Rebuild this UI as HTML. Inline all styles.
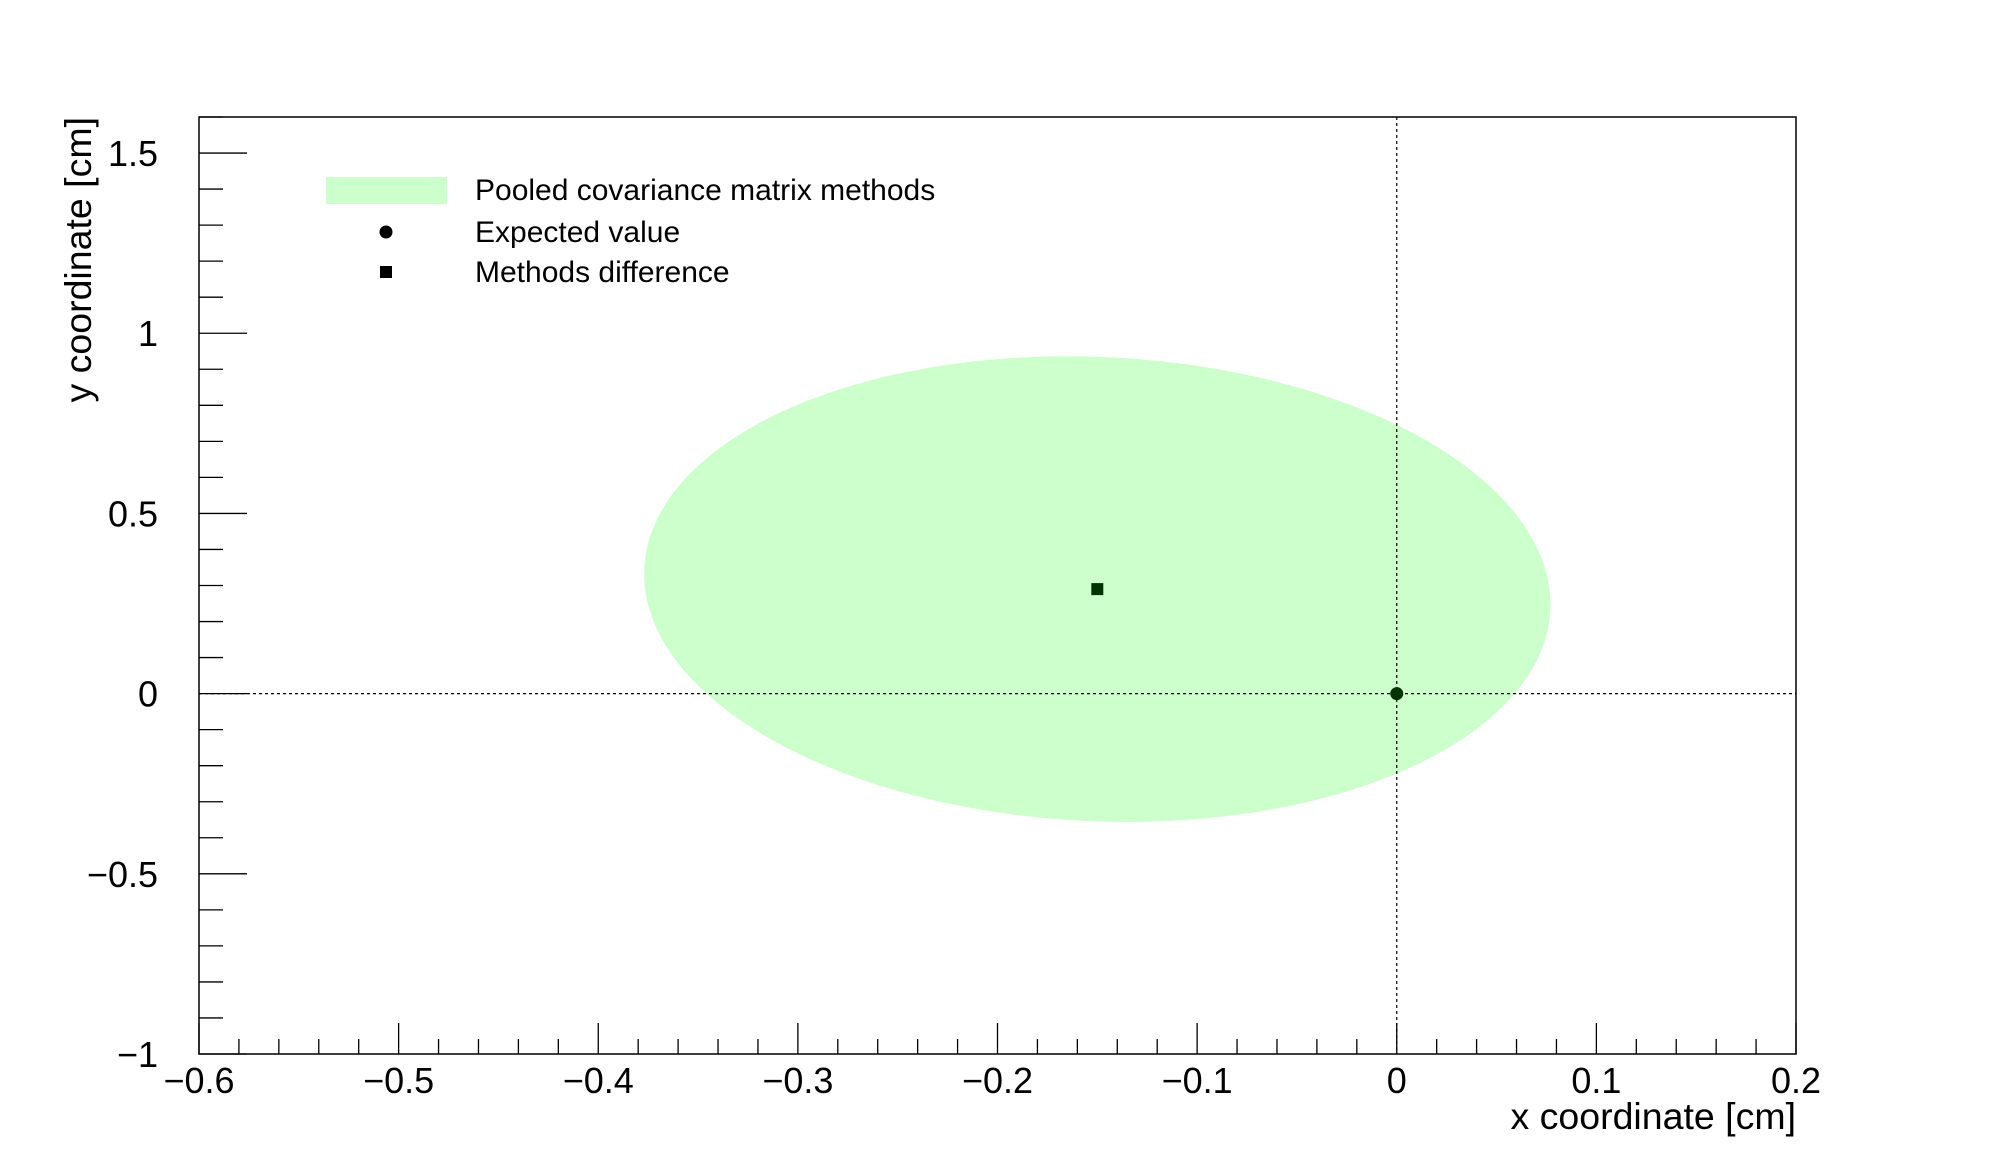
<!DOCTYPE html>
<html><head><meta charset="utf-8"><style>
html,body{margin:0;padding:0;background:#fff;}
svg{display:block;font-family:"Liberation Sans",sans-serif;}
</style></head><body>
<svg id="c" width="1996" height="1172" viewBox="0 0 1996 1172" xmlns="http://www.w3.org/2000/svg">
<g id="plot"></g>
</svg>
<script>
const ellipseCenter = [-0.15, 0.29];
const ellipseSigma = [0.227, 0.646];
const ellipseCov = [-0.0096];
const expectedPoint = [0, 0];
const diffPoint = [-0.15, 0.29];
const xTicks = [-0.6, -0.5, -0.4, -0.3, -0.2, -0.1, 0, 0.1, 0.2];
const xTickLabels = ["\u22120.6","\u22120.5","\u22120.4","\u22120.3","\u22120.2","\u22120.1","0","0.1","0.2"];
const yTicks = [-1, -0.5, 0, 0.5, 1, 1.5];
const yTickLabels = ["\u22121","\u22120.5","0","0.5","1","1.5"];

const L=199,R=1796,T=117,B=1054;
const xmin=-0.6,xmax=0.2,ymin=-1,ymax=1.6;
const X=v=>L+(v-xmin)/(xmax-xmin)*(R-L);
const Y=v=>B-(v-ymin)/(ymax-ymin)*(B-T);
const NS="http://www.w3.org/2000/svg";
const g=document.getElementById('plot');
function mk(t,a,p){const e=document.createElementNS(NS,t);for(const k in a)e.setAttribute(k,a[k]);(p||g).appendChild(e);return e;}

const sx=ellipseSigma[0], sy=ellipseSigma[1], c=ellipseCov[0];
const a21=c/sx, a22=Math.sqrt(sy*sy-a21*a21);
let d="";
for(let i=0;i<=180;i++){const t=i/180*2*Math.PI;
  const px=ellipseCenter[0]+sx*Math.cos(t), py=ellipseCenter[1]+a21*Math.cos(t)+a22*Math.sin(t);
  d+=(i?"L":"M")+X(px).toFixed(1)+","+Y(py).toFixed(1);}
let el=mk('path',{d:d+"Z",fill:"#ccffcc"});



el=mk('line',{x1:X(0),x2:X(0),y1:T,y2:B,stroke:"#000","stroke-width":1.2,"stroke-dasharray":"3,3"});


el=mk('line',{x1:L,x2:R,y1:Y(0),y2:Y(0),stroke:"#000","stroke-width":1.2,"stroke-dasharray":"3,3"});



el=mk('circle',{cx:X(expectedPoint[0]),cy:Y(expectedPoint[1]),r:6.5,fill:"#003300"});


el=mk('rect',{x:X(diffPoint[0])-6,y:Y(diffPoint[1])-6,width:12,height:12,fill:"#003300"});



el=mk('rect',{x:L,y:T,width:R-L,height:B-T,fill:"none",stroke:"#000","stroke-width":1.5});



for(let i=0;i<=40;i++){const v=xmin+i*0.02;const maj=i%5===0;
  el=mk('line',{x1:X(v),x2:X(v),y1:B,y2:B-(maj?31:15),stroke:"#000","stroke-width":1.3});
  
  }
xTicks.forEach((v,i)=>{el=mk('text',{x:X(v),y:1093,"text-anchor":"middle","font-size":36});el.textContent=xTickLabels[i];
  
  });
for(let i=0;i<=26;i++){const v=ymin+i*0.1;const maj=i%5===0;
  el=mk('line',{x1:L,x2:L+(maj?48:24),y1:Y(v),y2:Y(v),stroke:"#000","stroke-width":1.3});
  
  }
yTicks.forEach((v,i)=>{el=mk('text',{x:158,y:Y(v)+13,"text-anchor":"end","font-size":36});el.textContent=yTickLabels[i];
  
  });

el=mk('text',{x:R,y:1129,"text-anchor":"end","font-size":37.5});el.textContent="x coordinate [cm]";


el=mk('text',{x:0,y:0,"text-anchor":"end","font-size":37.5,transform:"translate(91,117) rotate(-90)"});el.textContent="y coordinate [cm]";



const lg=mk('g',{});


el=mk('rect',{x:326,y:177,width:121,height:27,fill:"#ccffcc"},lg);


el=mk('circle',{cx:386,cy:232,r:6.5,fill:"#000"},lg);


el=mk('rect',{x:380,y:266,width:12,height:12,fill:"#000"},lg);


[["Pooled covariance matrix methods",190],["Expected value",232],["Methods difference",272]].forEach(r=>{
  el=mk('text',{x:475,y:r[1]+10,"font-size":30},lg);el.textContent=r[0];
  
  });
</script>
</body></html>
